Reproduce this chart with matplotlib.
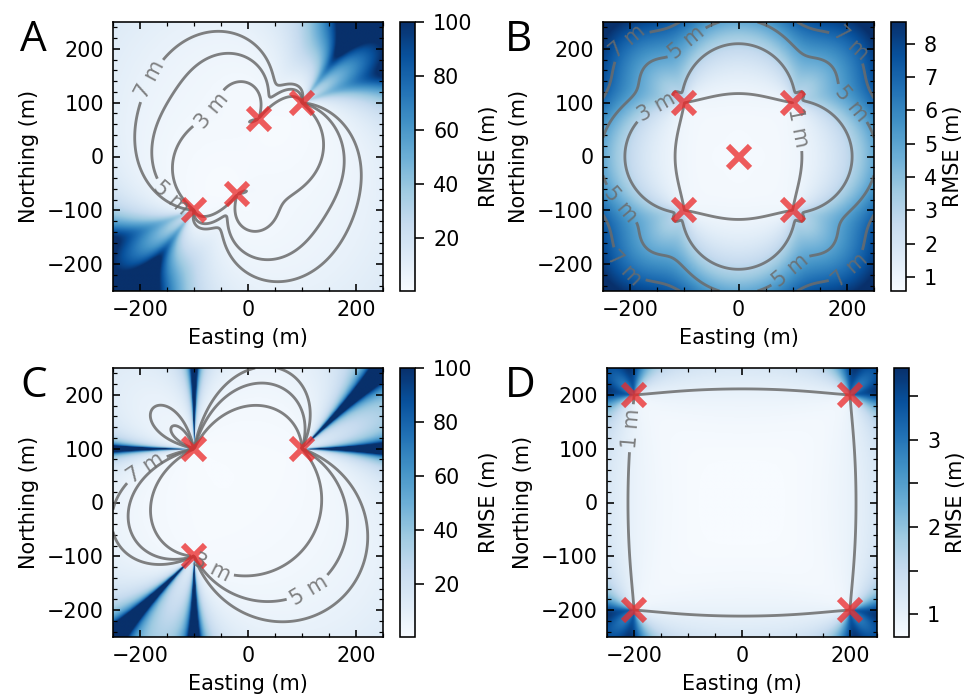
# RMSE maps of source location for four sensor layouts (panels A-D)

import numpy as np
import matplotlib.pyplot as plt
from matplotlib.ticker import MultipleLocator, FuncFormatter

plt.rcParams['font.size'] = 10.3

# sensor positions (m)
sensors_A_x = [-100, -20, 20, 100]
sensors_A_y = [-100, -70, 70, 100]
sensors_B_x = [-100, 100, 0, -100, 100]
sensors_B_y = [100, 100, 0, -100, -100]
sensors_C_x = [-100, 100, -100]
sensors_C_y = [100, 100, -100]
sensors_D_x = [-200, 200, -200, 200]
sensors_D_y = [200, 200, -200, -200]

# contour levels drawn in each panel (m)
levels_A = [3, 5, 7]
levels_B = [1, 3, 5, 7]
levels_C = [3, 5, 7]
levels_D = [1]

# where the contour labels sit (m)
label_pos_A = [(-181, 142), (-70, 87), (-139, -74)]
label_pos_B = [(-219, 231), (-105, 221), (217, 222), (214, 104), (-155, 98),
               (113, 55), (-222, -93), (-225, -223), (97, -213), (211, -217)]
label_pos_C = [(-187, 60), (-65, -115), (105, -150)]
label_pos_D = [(-204, 138)]

# colour limits
clim_A = (0.4, 100)
clim_B = (0.58, 8.65)
clim_C = (0.5, 100)
clim_D = (0.74, 3.82)

cbar_ticks_A = [20, 40, 60, 80, 100]
cbar_ticks_B = [1, 2, 3, 4, 5, 6, 7, 8]
cbar_ticks_C = [20, 40, 60, 80, 100]
cbar_ticks_D = [1, 1.5, 2, 2.5, 3, 3.5]

sigma = 0.74  # range error of one arrival (m)
grid = np.linspace(-250, 250, 300)


def rmse_map(sx, sy):
    # arrival times with unknown origin time -> unknowns x, y, t0
    X, Y = np.meshgrid(grid, grid)
    dx = X[..., None] - np.array(sx, float)
    dy = Y[..., None] - np.array(sy, float)
    r = np.hypot(dx, dy)
    ux = dx / r
    uy = dy / r
    M = np.empty(X.shape + (3, 3))
    M[..., 0, 0] = (ux * ux).sum(-1)
    M[..., 1, 1] = (uy * uy).sum(-1)
    M[..., 2, 2] = len(sx)
    M[..., 0, 1] = M[..., 1, 0] = (ux * uy).sum(-1)
    M[..., 0, 2] = M[..., 2, 0] = ux.sum(-1)
    M[..., 1, 2] = M[..., 2, 1] = uy.sum(-1)
    M = M + np.eye(3) * 1e-9
    C = np.linalg.inv(M)
    return sigma * np.sqrt(np.abs(C[..., 0, 0] + C[..., 1, 1]))


W, H = 969.0, 700.0
panels = [
    ('A', sensors_A_x, sensors_A_y, levels_A, label_pos_A, clim_A, cbar_ticks_A, (113, 22, 270, 269), (400, 15)),
    ('B', sensors_B_x, sensors_B_y, levels_B, label_pos_B, clim_B, cbar_ticks_B, (603, 22, 271, 269), (891, 15)),
    ('C', sensors_C_x, sensors_C_y, levels_C, label_pos_C, clim_C, cbar_ticks_C, (113, 368, 270, 269), (400, 15)),
    ('D', sensors_D_x, sensors_D_y, levels_D, label_pos_D, clim_D, cbar_ticks_D, (607, 368, 270, 269), (894, 15)),
]

fig = plt.figure(figsize=(W / 145, H / 145), dpi=145)

for letter, sx, sy, levels, lpos, clim, cticks, box, cbox in panels:
    x0, y0, w, h = box
    ax = fig.add_axes([x0 / W, 1 - (y0 + h) / H, w / W, h / H])
    cax = fig.add_axes([cbox[0] / W, 1 - (y0 + h) / H, cbox[1] / W, h / H])

    Z = rmse_map(sx, sy)
    im = ax.imshow(Z, extent=[-250, 250, -250, 250], origin='lower', cmap='Blues',
                   vmin=clim[0], vmax=clim[1], aspect='auto', interpolation='bilinear')
    cs = ax.contour(grid, grid, Z, levels=levels, colors='0.42', linewidths=1.4, alpha=0.85)
    ax.clabel(cs, fmt=lambda v: '%d m' % v, fontsize=10.3, inline=True, inline_spacing=4,
              manual=lpos)
    ax.plot(sx, sy, 'x', color=(0.92, 0.15, 0.15), ms=11, mew=3, alpha=0.75)

    ax.set_xlim(-250, 250)
    ax.set_ylim(-250, 250)
    ax.xaxis.set_major_locator(MultipleLocator(200))
    ax.xaxis.set_minor_locator(MultipleLocator(50))
    ax.yaxis.set_major_locator(MultipleLocator(100))
    ax.yaxis.set_minor_locator(MultipleLocator(20))
    ax.tick_params(which='both', direction='in', top=True, right=True)
    ax.tick_params(which='major', pad=4.5)
    ax.set_xlabel('Easting (m)')
    ax.set_ylabel('Northing (m)')

    cb = fig.colorbar(im, cax=cax)
    cb.set_ticks(cticks)
    cb.ax.yaxis.set_major_formatter(FuncFormatter(lambda v, p: '%d' % v if v == int(v) else ''))
    cb.ax.tick_params(length=4.5, pad=4.5)
    cb.set_label('RMSE (m)', labelpad=3)

    fig.text((20 if letter in 'AC' else 505) / W, 1 - (y0 + 29) / H, letter,
             fontsize=21, family='Open Sans', va='baseline')

plt.savefig('out.png', dpi=145)
